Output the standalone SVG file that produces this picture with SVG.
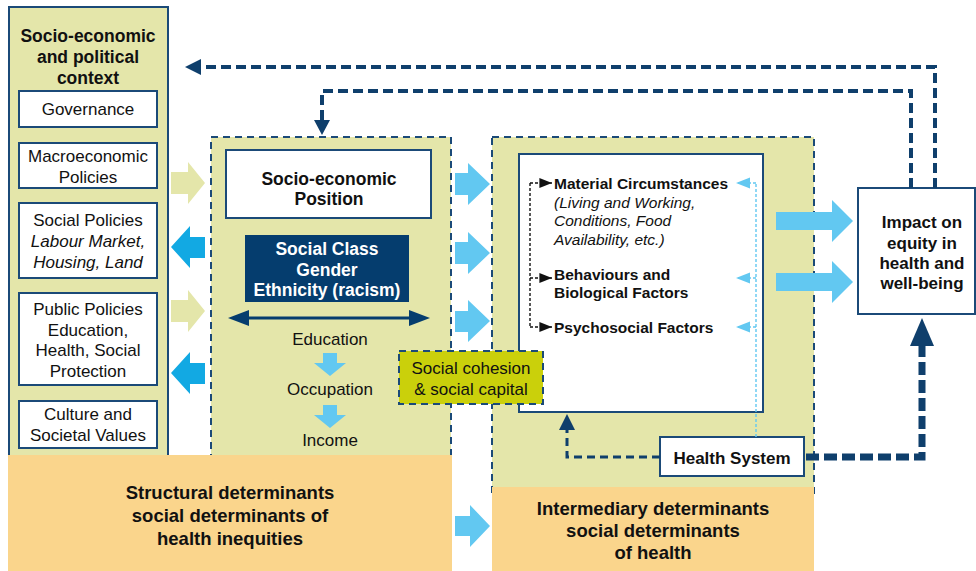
<svg xmlns="http://www.w3.org/2000/svg" width="976" height="571" viewBox="0 0 976 571">
  <defs>
    <style>
      text { font-family: "Liberation Sans", Arial, sans-serif; fill: #111; }
      .b { font-weight: bold; }
      .i { font-style: italic; }
      .w { fill: #fff; }
      .panel { fill: #e4e6aa; }
      .solid { stroke: #1b4a78; stroke-width: 2; }
      .dash { stroke: #1b4a78; stroke-width: 2; stroke-dasharray: 7 5; }
      .box { fill: #fff; stroke: #1b4a78; stroke-width: 2; }
      .orange { fill: #fad58c; }
      .olivearrow { fill: #e4e6aa; }
      .bluearrow { fill: #12a9e3; }
      .lightarrow { fill: #62c8f1; }
      .fb { fill: none; stroke: #0f3f6c; stroke-width: 4; stroke-dasharray: 10 5; }
      .blackdot { fill: none; stroke: #111; stroke-width: 1.4; stroke-dasharray: 3 2; }
      .lightdot { fill: none; stroke: #62c8f1; stroke-width: 1.4; stroke-dasharray: 3 2; }
    </style>
    <marker id="blackHead" viewBox="0 0 10 10" refX="10" refY="5" markerWidth="9" markerHeight="9" orient="auto" markerUnits="strokeWidth">
      <path d="M0,1 L10,5 L0,9 z" fill="#111"/>
    </marker>
    <marker id="lightHead" viewBox="0 0 10 10" refX="10" refY="5" markerWidth="10" markerHeight="10" orient="auto" markerUnits="strokeWidth">
      <path d="M0,1 L10,5 L0,9 z" fill="#62c8f1"/>
    </marker>
  </defs>

  <!-- Socio-economic and political context panel -->
  <g id="context">
    <rect x="9" y="7" width="159" height="460" class="panel solid"/>
    <text class="b" font-size="17.5" text-anchor="middle" x="88" y="42">Socio-economic</text>
    <text class="b" font-size="17.5" text-anchor="middle" x="88" y="63">and political</text>
    <text class="b" font-size="17.5" text-anchor="middle" x="88" y="84">context</text>
  </g>
  <g id="governance">
    <rect x="19" y="91" width="138" height="36" class="box"/>
    <text font-size="17" text-anchor="middle" x="88" y="115">Governance</text>
  </g>
  <g id="macroeconomic">
    <rect x="19" y="143" width="138" height="45" class="box"/>
    <text font-size="17" text-anchor="middle" x="88" y="162">Macroeconomic</text>
    <text font-size="17" text-anchor="middle" x="88" y="183">Policies</text>
  </g>
  <g id="social-policies">
    <rect x="19" y="203" width="138" height="75" class="box"/>
    <text font-size="17" text-anchor="middle" x="88" y="226">Social Policies</text>
    <text class="i" font-size="17" text-anchor="middle" x="88" y="247">Labour Market,</text>
    <text class="i" font-size="17" text-anchor="middle" x="88" y="268">Housing, Land</text>
  </g>
  <g id="public-policies">
    <rect x="19" y="293" width="138" height="92" class="box"/>
    <text font-size="17" text-anchor="middle" x="88" y="315">Public Policies</text>
    <text font-size="17" text-anchor="middle" x="88" y="336">Education,</text>
    <text font-size="17" text-anchor="middle" x="88" y="356">Health, Social</text>
    <text font-size="17" text-anchor="middle" x="88" y="377">Protection</text>
  </g>
  <g id="culture">
    <rect x="19" y="401" width="138" height="47" class="box"/>
    <text font-size="17" text-anchor="middle" x="88" y="420">Culture and</text>
    <text font-size="17" text-anchor="middle" x="88" y="441">Societal Values</text>
  </g>

  <!-- Socio-economic position panel -->
  <g id="position-panel">
    <rect x="211" y="137" width="240" height="330" class="panel dash"/>
  </g>
  <g id="socio-economic-position">
    <rect x="226" y="150" width="205" height="68" class="box"/>
    <text class="b" font-size="17.5" text-anchor="middle" x="329" y="185">Socio-economic</text>
    <text class="b" font-size="17.5" text-anchor="middle" x="329" y="205">Position</text>
  </g>
  <g id="social-class">
    <rect x="245" y="235" width="164" height="67" fill="#053d6e"/>
    <text class="b w" font-size="17.5" text-anchor="middle" x="327" y="255">Social Class</text>
    <text class="b w" font-size="17.5" text-anchor="middle" x="327" y="276">Gender</text>
    <text class="b w" font-size="17.5" text-anchor="middle" x="327" y="296">Ethnicity (racism)</text>
  </g>
  <g id="ladder">
    <path d="M246,318 H412" stroke="#053d6e" stroke-width="3"/>
    <path d="M228,318 L249,310 L249,326 z M430,318 L409,310 L409,326 z" fill="#053d6e"/>
    <text font-size="17" text-anchor="middle" x="330" y="345">Education</text>
    <path d="M323,353 H337 V363 H346 L330,376 L314,363 H323 z" class="lightarrow"/>
    <text font-size="17" text-anchor="middle" x="330" y="395">Occupation</text>
    <path d="M323,405 H337 V415 H346 L330,428 L314,415 H323 z" class="lightarrow"/>
    <text font-size="17" text-anchor="middle" x="330" y="446">Income</text>
  </g>

  <!-- Intermediary determinants panel -->
  <g id="intermediary-panel">
    <rect x="492" y="137" width="322" height="360" class="panel dash"/>
  </g>
  <g id="intermediary-factors">
    <rect x="519" y="154" width="244" height="258" class="box"/>
    <text class="b" font-size="15.5" x="554" y="189">Material Circumstances</text>
    <text class="i" font-size="15.5" x="554" y="208">(Living and Working,</text>
    <text class="i" font-size="15.5" x="554" y="226">Conditions, Food</text>
    <text class="i" font-size="15.5" x="554" y="245">Availability, etc.)</text>
    <text class="b" font-size="15.5" x="554" y="280">Behaviours and</text>
    <text class="b" font-size="15.5" x="554" y="298">Biological Factors</text>
    <text class="b" font-size="15.5" x="554" y="333">Psychosocial Factors</text>
  </g>
  <g id="social-cohesion">
    <rect x="399" y="351" width="144" height="53" fill="#cad00b" class="dash"/>
    <text font-size="17" text-anchor="middle" x="471" y="374">Social cohesion</text>
    <text font-size="17" text-anchor="middle" x="471" y="395">&amp; social capital</text>
  </g>
  <g id="health-system">
    <rect x="660" y="437" width="144" height="39" class="box"/>
    <text class="b" font-size="17" text-anchor="middle" x="732" y="464">Health System</text>
  </g>

  <!-- Bottom bands -->
  <g id="structural">
    <rect x="8" y="455" width="444" height="116" class="orange"/>
    <text class="b" font-size="18.5" text-anchor="middle" x="230" y="499">Structural determinants</text>
    <text class="b" font-size="18.5" text-anchor="middle" x="230" y="522">social determinants of</text>
    <text class="b" font-size="18.5" text-anchor="middle" x="230" y="545">health inequities</text>
  </g>
  <g id="intermediary">
    <rect x="492" y="487" width="322" height="84" class="orange"/>
    <text class="b" font-size="18.5" text-anchor="middle" x="653" y="515">Intermediary determinants</text>
    <text class="b" font-size="18.5" text-anchor="middle" x="653" y="537">social determinants</text>
    <text class="b" font-size="18.5" text-anchor="middle" x="653" y="559">of health</text>
  </g>

  <!-- Outcome -->
  <g id="impact">
    <rect x="858" y="188" width="117" height="126" class="box"/>
    <text class="b" font-size="17" text-anchor="middle" x="922" y="228">Impact on</text>
    <text class="b" font-size="17" text-anchor="middle" x="922" y="249">equity in</text>
    <text class="b" font-size="17" text-anchor="middle" x="922" y="269">health and</text>
    <text class="b" font-size="17" text-anchor="middle" x="922" y="289">well-being</text>
  </g>

  <!-- Connectors -->
  <g id="connectors">
    <!-- context to position and back -->
    <path d="M171,172 H188 V162 L205,183 L188,204 V194 H171 z" class="olivearrow"/>
    <path d="M205,237 H190 V226 L171,247 L190,268 V258 H205 z" class="bluearrow"/>
    <path d="M171,300 H188 V290 L205,311 L188,332 V322 H171 z" class="olivearrow"/>
    <path d="M205,363 H190 V352 L171,373 L190,394 V384 H205 z" class="bluearrow"/>
    <!-- position to intermediary factors -->
    <path d="M455,173 H468 V163 L490,184 L468,205 V195 H455 z" class="lightarrow"/>
    <path d="M455,242 H468 V232 L490,253 L468,274 V264 H455 z" class="lightarrow"/>
    <path d="M455,311 H468 V300 L490,321 L468,342 V332 H455 z" class="lightarrow"/>
    <path d="M455,516 H470 V505 L490,526 L470,547 V536 H455 z" class="lightarrow"/>
    <!-- intermediary factors to impact -->
    <path d="M776,212 H832 V200 L853,221 L832,242 V230 H776 z" class="lightarrow"/>
    <path d="M776,273 H832 V261 L853,282 L832,303 V291 H776 z" class="lightarrow"/>
    <!-- feedback loops from impact -->
    <path d="M935,188 V67 H196" class="fb"/>
    <path d="M185,67 L201,59 L201,75 z" fill="#0f3f6c"/>
    <path d="M911,188 V91 H322 V124" class="fb"/>
    <path d="M322,135 L314,120 L330,120 z" fill="#0f3f6c"/>
    <!-- material circumstances pathways -->
    <path d="M530,183 V327" class="blackdot"/>
    <path d="M530,183 H552" class="blackdot" marker-end="url(#blackHead)"/>
    <path d="M530,278 H552" class="blackdot" marker-end="url(#blackHead)"/>
    <path d="M530,327 H552" class="blackdot" marker-end="url(#blackHead)"/>
    <path d="M756,437 V183" class="lightdot"/>
    <path d="M756,183 H736" class="lightdot" marker-end="url(#lightHead)"/>
    <path d="M756,278 H736" class="lightdot" marker-end="url(#lightHead)"/>
    <path d="M756,327 H736" class="lightdot" marker-end="url(#lightHead)"/>
    <!-- health system links -->
    <path d="M660,457 H567 V426" fill="none" stroke="#0f3f6c" stroke-width="3" stroke-dasharray="8 5"/>
    <path d="M567,414 L559,430 L575,430 z" fill="#0f3f6c"/>
    <path d="M806,457 H922 V342" fill="none" stroke="#0f3f6c" stroke-width="7" stroke-dasharray="13 5"/>
    <path d="M922,318 L910,346 L934,346 z" fill="#0f3f6c"/>
  </g>
</svg>
